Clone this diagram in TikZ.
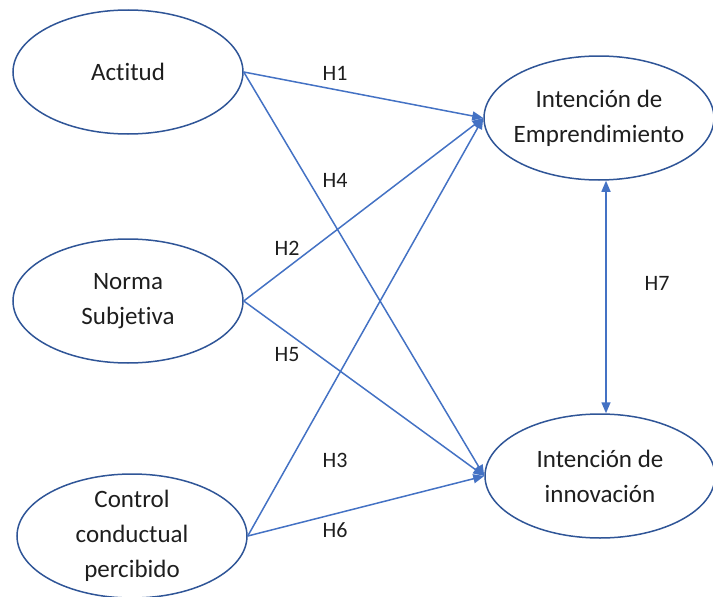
\documentclass[tikz,border=0pt]{standalone}
\usepackage{fontspec}
\setmainfont{Carlito}[Ligatures={NoCommon,NoRequired,NoContextual}]
\usetikzlibrary{shapes.geometric, arrows.meta}
\definecolor{pathblue}{RGB}{68, 114, 196}
\definecolor{rimblue}{RGB}{47, 85, 151}
\definecolor{inkgray}{RGB}{30, 30, 30}

\begin{document}
\begin{tikzpicture}[
    x=1pt, y=-1pt,
    construct/.style={ellipse, draw=rimblue, line width=1.5pt, minimum width=230pt, minimum height=124pt, inner sep=0pt,
        label={[align=center, font=\fontsize{25}{35}\selectfont, text=inkgray]center:#1}},
    hyp/.style={font=\fontsize{22}{26}\selectfont, text=inkgray},
    path/.style={-{Triangle[length=11pt, width=9pt]}, line width=1.5pt, draw=pathblue, fill=pathblue},
    bipath/.style={{Triangle[length=11pt, width=9pt]}-{Triangle[length=11pt, width=9pt]}, line width=1.5pt, draw=pathblue, fill=pathblue}
]
\useasboundingbox (0,0) rectangle (713,597);

% Exogenous constructs
\node[construct={Actitud}] (act) at (128,72) {};
\node[construct={Norma\\Subjetiva}] (nor) at (128,301) {};
\node[construct={Control\\conductual\\percibido}] (con) at (132,536) {};

% Endogenous constructs
\node[construct={Intención de\\Emprendimiento}] (emp) at (599,118) {};
\node[construct={Intención de\\innovación}] (inn) at (600,476) {};

% Paths
\draw[path] (act.east) -- (emp.west);
\draw[path] (act.east) -- (inn.west);
\draw[path] (nor.east) -- (emp.west);
\draw[path] (nor.east) -- (inn.west);
\draw[path] (con.east) -- (emp.west);
\draw[path] (con.east) -- (inn.west);
\draw[bipath] ([xshift=7pt]emp.south) -- ([xshift=6pt]inn.north);

% Hypotheses
\node[hyp] (h1) at (335,73) {H1};
\node[hyp] (h4) at (335,180) {H4};
\node[hyp] (h2) at (287,248) {H2};
\node[hyp] (h5) at (287,355) {H5};
\node[hyp] (h3) at (335,460) {H3};
\node[hyp] (h6) at (335,530) {H6};
\node[hyp] (h7) at (657,283) {H7};

\end{tikzpicture}
\end{document}
